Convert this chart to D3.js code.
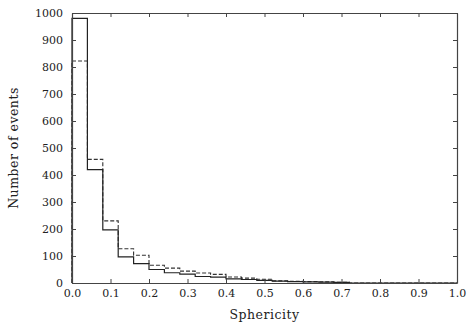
<!DOCTYPE html>
<html><head><meta charset="utf-8">
<script src="https://cdn.jsdelivr.net/npm/d3@7/dist/d3.min.js"></script>
<style>body{margin:0;background:#fff}svg text{font-family:"DejaVu Serif","Liberation Serif",serif;fill:#222}</style>
</head><body><svg id="c" width="470" height="325"></svg>
<script>
const binEdges = [0,0.04,0.08,0.12,0.16,0.20,0.24,0.28,0.32,0.36,0.40,0.44,0.48,0.52,0.56,0.60,0.64,0.68,0.72,0.76,0.80,0.84,0.88,0.92,0.96,1.00];
const solidCounts = [980,420,197,97,72,50,38,33,24,22,15,13,10,7,5,4,3,2,0,0,0,0,0,0,0];
const dashedCounts = [822,458,230,127,103,66,55,44,37,32,22,18,14,8,6,5,4,3,0,0,0,0,0,0,0];
const xTicks = [0,0.1,0.2,0.3,0.4,0.5,0.6,0.7,0.8,0.9,1.0];
const yTicks = [0,100,200,300,400,500,600,700,800,900,1000];

const svg = d3.select("#c");
const m = {l:72, r:13, t:13, b:42};
const W = 470, H = 325;
const x = d3.scaleLinear().domain([0,1]).range([m.l, W-m.r]);
const y = d3.scaleLinear().domain([0,1000]).range([H-m.b, m.t]);

function stepPath(counts){
  const p = d3.path();
  p.moveTo(x(binEdges[0]), y(0));
  counts.forEach((c,i)=>{ p.lineTo(x(binEdges[i]), y(c)); p.lineTo(x(binEdges[i+1]), y(c)); });
  p.lineTo(x(binEdges[binEdges.length-1]), y(0));
  return p.toString();
}
svg.append("path").attr("d", stepPath(dashedCounts)).attr("fill","none").attr("stroke","#333").attr("stroke-width",1.1).attr("stroke-dasharray","4,2");
svg.append("path").attr("d", stepPath(solidCounts)).attr("fill","none").attr("stroke","#222").attr("stroke-width",1.2);

const fmtX = d3.format(".1f");
const gB = svg.append("g").attr("transform",`translate(0,${H-m.b})`).call(d3.axisBottom(x).tickValues(xTicks).tickFormat(fmtX).tickSizeInner(-4).tickSizeOuter(0).tickPadding(6));
const gT = svg.append("g").attr("transform",`translate(0,${m.t})`).call(d3.axisTop(x).tickValues(xTicks).tickFormat("").tickSizeInner(-4).tickSizeOuter(0));
const gL = svg.append("g").attr("transform",`translate(${m.l},0)`).call(d3.axisLeft(y).tickValues(yTicks).tickFormat(d3.format("d")).tickSizeInner(-4).tickSizeOuter(0).tickPadding(9));
const gR = svg.append("g").attr("transform",`translate(${W-m.r},0)`).call(d3.axisRight(y).tickValues(yTicks).tickFormat("").tickSizeInner(-4).tickSizeOuter(0));
[gB,gT,gL,gR].forEach(g=>{
  g.selectAll("path.domain").attr("stroke","#444").attr("stroke-width",1.2);
  g.selectAll(".tick line").attr("stroke","#444");
  g.selectAll("text").attr("font-size",11).attr("fill","#222").attr("font-family",'"DejaVu Serif",serif');
});

svg.append("text").attr("x",(m.l+W-m.r)/2).attr("y",319).attr("text-anchor","middle").attr("font-size",12.5).attr("letter-spacing",0.5).text("Sphericity");
svg.append("text").attr("transform",`translate(18,${(m.t+H-m.b)/2}) rotate(-90)`).attr("text-anchor","middle").attr("font-size",12.5).attr("letter-spacing",0.5).text("Number of events");
</script></body></html>
